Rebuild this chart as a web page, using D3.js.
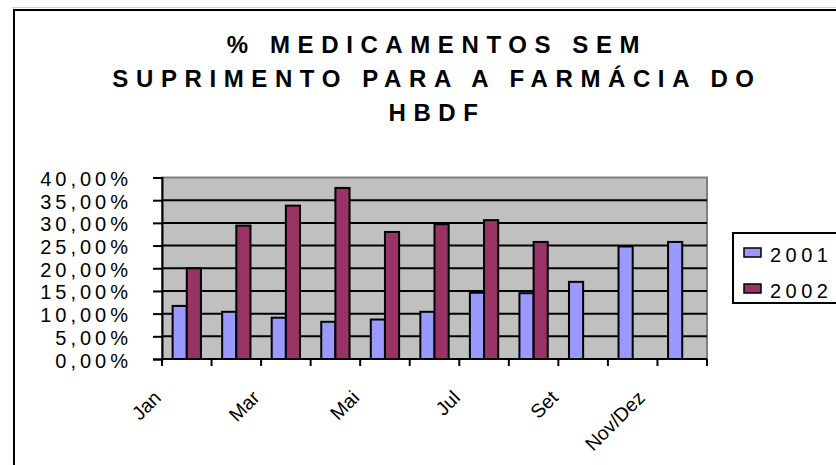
<!DOCTYPE html>
<html>
<head>
<meta charset="utf-8">
<script src="https://cdn.jsdelivr.net/npm/d3@7"></script>
<style>
  body { margin: 0; background: #fff; }
  text { font-family: Arial, "Liberation Sans", sans-serif; }
</style>
</head>
<body>
<svg id="chart" width="836" height="465"></svg>
<script>
// data
var months = ["Jan", "Fev", "Mar", "Abr", "Mai", "Jun", "Jul", "Ago", "Set", "Out", "Nov/Dez"];
var series = ["2001", "2002"];
var values2001 = [11.7, 10.4, 9.1, 8.2, 8.7, 10.4, 14.6, 14.5, 17.0, 24.8, 25.8];
var values2002 = [20.0, 29.4, 33.8, 37.7, 28.0, 29.7, 30.6, 25.8, null, null, null];
var yTicks = [0, 5, 10, 15, 20, 25, 30, 35, 40];
var titleLines = ["% MEDICAMENTOS SEM", "SUPRIMENTO PARA A FARMÁCIA DO", "HBDF"];
var colors = ["#9999FF", "#993366"];

var svg = d3.select("#chart");

// page bits: faint rule and the chart frame
svg.append("line").attr("x1", 12).attr("x2", 836).attr("y1", 7.5).attr("y2", 7.5)
  .attr("stroke", "#d0d0d0").attr("stroke-width", 1);
svg.append("rect").attr("x", 14).attr("y", 10).attr("width", 900).attr("height", 500)
  .attr("fill", "#fff").attr("stroke", "#000").attr("stroke-width", 2);

// title
svg.selectAll(".title").data(titleLines).enter().append("text")
  .attr("class", "title")
  .attr("x", 437)
  .attr("y", function (d, i) { return 53 + i * 34; })
  .attr("text-anchor", "middle")
  .style("font-size", "24px").style("font-weight", "bold").style("letter-spacing", "7.6px")
  .text(function (d) { return d; });

var pLeft = 162, pRight = 707, pTop = 177.5, pBottom = 359;

var x = d3.scaleBand().domain(months).range([pLeft, pRight]).padding(0);
var bw = x.bandwidth() / 3.5;
var xs = d3.scaleBand().domain(series)
  .range([(x.bandwidth() - 2 * bw) / 2, (x.bandwidth() + 2 * bw) / 2]);
var y = d3.scaleLinear().domain([0, 40]).range([pBottom, pTop]);

// plot area
svg.append("rect").attr("x", pLeft).attr("y", pTop).attr("width", pRight - pLeft).attr("height", pBottom - pTop)
  .attr("fill", "#C0C0C0").attr("stroke", "#808080").attr("stroke-width", 2);

// gridlines
svg.selectAll(".grid").data(yTicks.slice(1, -1)).enter().append("line")
  .attr("x1", pLeft).attr("x2", pRight)
  .attr("y1", function (d) { return y(d); }).attr("y2", function (d) { return y(d); })
  .attr("stroke", "#000").attr("stroke-width", 2);

// bars
var rows = months.map(function (m, i) {
  return { month: m, vals: [{ s: "2001", v: values2001[i] }, { s: "2002", v: values2002[i] }] };
});
var groups = svg.selectAll(".grp").data(rows).enter().append("g")
  .attr("transform", function (d) { return "translate(" + x(d.month) + ",0)"; });
groups.selectAll("rect").data(function (d) { return d.vals.filter(function (e) { return e.v != null; }); })
  .enter().append("rect")
  .attr("x", function (d) { return xs(d.s); })
  .attr("width", xs.bandwidth())
  .attr("y", function (d) { return y(d.v); })
  .attr("height", function (d) { return pBottom - y(d.v); })
  .attr("fill", function (d) { return colors[series.indexOf(d.s)]; })
  .attr("stroke", "#000").attr("stroke-width", 2);

// y axis
var yAxis = d3.axisLeft(y).tickValues(yTicks).tickSize(9).tickPadding(0)
  .tickFormat(function (d) { return d3.format(".2f")(d).replace(".", ",") + "%"; });
var gy = svg.append("g").attr("transform", "translate(" + pLeft + ",0)").call(yAxis);
gy.select(".domain").attr("stroke-width", 2);
gy.selectAll(".tick line").attr("stroke-width", 2);
gy.selectAll(".tick text")
  .attr("x", -30).attr("dy", "0.4em")
  .style("font-size", "20px").style("letter-spacing", "4px").attr("fill", "#000");

// x axis, ticks on category edges
var edges = months.map(function (m) { return x(m); }).concat([pRight]);
svg.append("line").attr("x1", pLeft).attr("x2", pRight).attr("y1", pBottom).attr("y2", pBottom)
  .attr("stroke", "#000").attr("stroke-width", 2);
svg.selectAll(".xt").data(edges).enter().append("line")
  .attr("x1", function (d) { return d; }).attr("x2", function (d) { return d; })
  .attr("y1", pBottom).attr("y2", pBottom + 7)
  .attr("stroke", "#000").attr("stroke-width", 2);

// rotated category labels, every other month
svg.selectAll(".xl").data(months.filter(function (m, i) { return i % 2 === 0; })).enter().append("text")
  .attr("class", "xl")
  .attr("text-anchor", "end")
  .style("font-size", "19.5px")
  .text(function (d) { return d; })
  .attr("transform", function (d) {
    var L = this.getComputedTextLength();
    var cx = x(d) + x.bandwidth() / 2 - 16 - 0.27 * L;
    return "translate(" + cx + ",399) rotate(-45)";
  });

// legend
var lg = svg.append("g");
lg.append("rect").attr("x", 733).attr("y", 233).attr("width", 120).attr("height", 70)
  .attr("fill", "#fff").attr("stroke", "#000").attr("stroke-width", 2);
var items = lg.selectAll(".li").data(series).enter().append("g")
  .attr("transform", function (d, i) { return "translate(744," + (248 + i * 36) + ")"; });
items.append("rect").attr("width", 17).attr("height", 9)
  .attr("fill", function (d, i) { return colors[i]; })
  .attr("stroke", "#000").attr("stroke-width", 1.5);
items.append("text").attr("x", 26).attr("y", 14)
  .style("font-size", "20px").style("letter-spacing", "4.5px")
  .text(function (d) { return d; });
</script>
</body>
</html>
